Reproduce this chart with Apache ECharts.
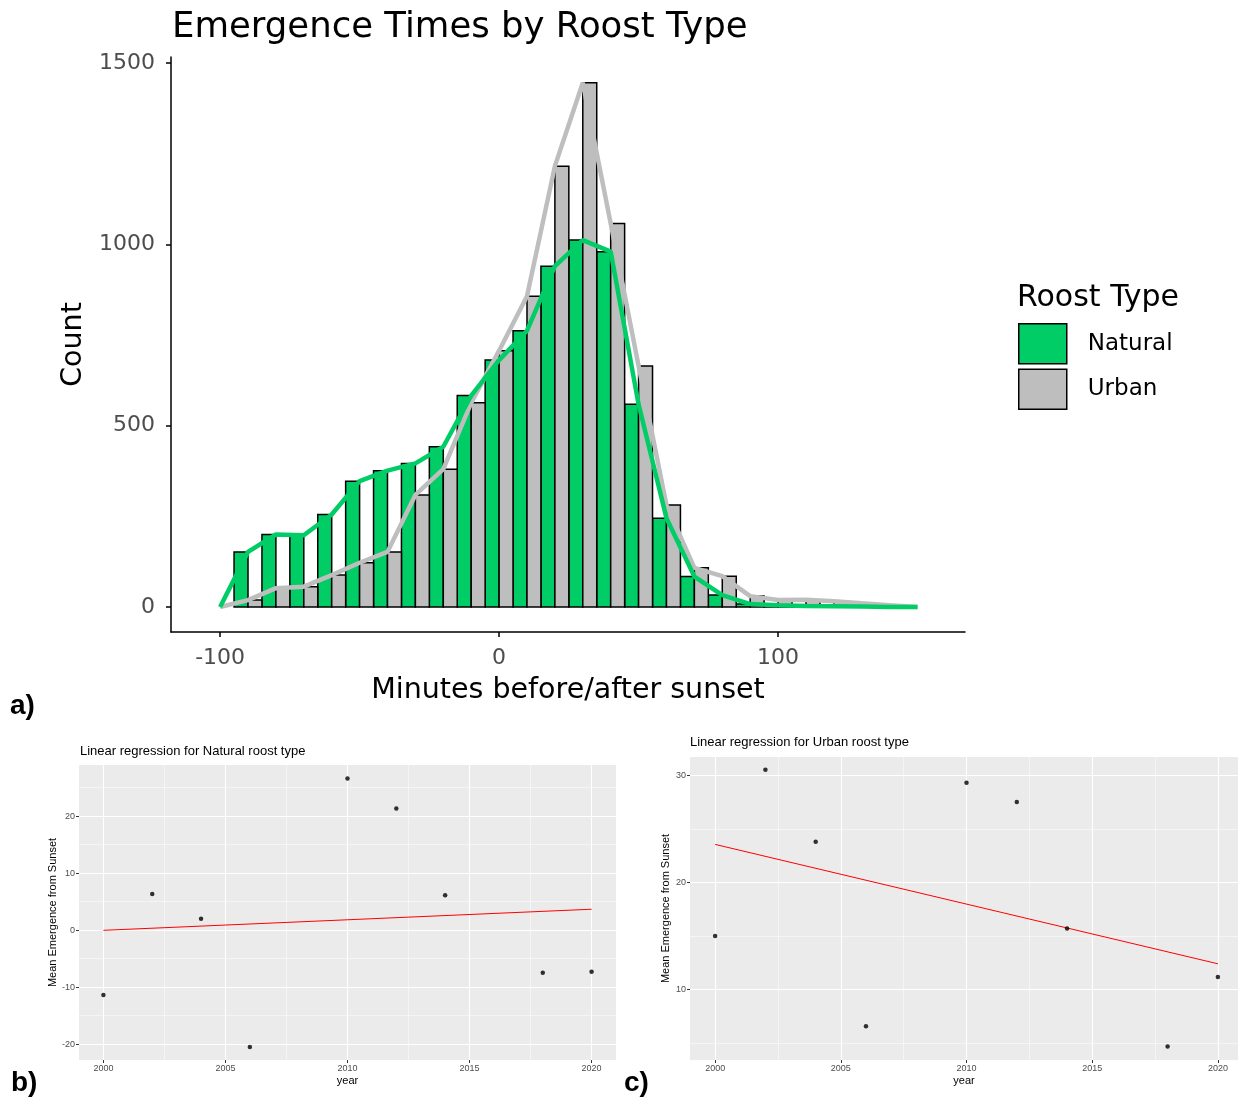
<!DOCTYPE html>
<html>
<head>
<meta charset="utf-8">
<title>Emergence Times by Roost Type</title>
<script src="https://cdn.jsdelivr.net/npm/echarts@6/dist/echarts.min.js"></script>
<style>
  html, body { margin: 0; padding: 0; background: #fff; }
  #chart { width: 1238px; height: 1097px; }
</style>
</head>
<body>
<div id="chart"></div>
<script>
// histogram: 10 minute bins, counts
const binWidth = 10;
const binCenters = [-90, -80, -70, -60, -50, -40, -30, -20, -10, 0, 10, 20, 30, 40, 50, 60, 70, 80, 90, 100, 110, 120, 130, 140];
const naturalCounts = [152, 200, 198, 255, 347, 376, 396, 442, 583, 681, 762, 940, 1012, 980, 559, 245, 84, 33, 8, 5, 3, 2, 1, 0];
const urbanCounts = [19, 52, 56, 88, 122, 152, 309, 380, 563, 707, 857, 1216, 1446, 1058, 665, 281, 108, 85, 30, 19, 20, 16, 10, 5];
const countTicks = [0, 500, 1000, 1500];
const minuteTicks = [-100, 0, 100];

// yearly mean emergence (b = Natural, c = Urban)
const years = [2000, 2002, 2004, 2006, 2010, 2012, 2014, 2018, 2020];
const naturalMeans = [-11.4, 6.3, 2.0, -20.5, 26.6, 21.3, 6.1, -7.5, -7.3];
const urbanMeans = [15.0, 30.5, 23.8, 6.6, 29.3, 27.5, 15.7, 4.7, 11.2];
// fitted lines, read at both ends
const fitYears = [2000, 2020];
const naturalFit = [-0.05, 3.65];
const urbanFit = [23.55, 12.42];
const yearTicks = [2000, 2005, 2010, 2015, 2020];
const yearMinor = [2002.5, 2007.5, 2012.5, 2017.5];
const naturalTicks = [-20, -10, 0, 10, 20];
const naturalMinor = [-15, -5, 5, 15, 25];
const urbanTicks = [10, 20, 30];
const urbanMinor = [5, 15, 25];

const GREEN = '#00CD66';
const GREY = '#BEBEBE';
const MAIN_FONT = 'DejaVu Sans';
const SMALL_FONT = 'Liberation Sans, Arial, sans-serif';
const plain = v => String(v);

// freqpoly closes at zero one bin beyond each end
function freqPoly(counts) {
  const pts = [[binCenters[0] - binWidth, 0]];
  binCenters.forEach((c, i) => pts.push([c, counts[i]]));
  pts.push([binCenters[binCenters.length - 1] + binWidth, 0]);
  return pts;
}

// dodged histogram bars: Natural on the left half of the bin, Urban on the right
function halfBar(leftHalf, color) {
  return function (params, api) {
    const c = api.value(0);
    const v = api.value(1);
    const x0 = leftHalf ? c - binWidth / 2 : c;
    const p0 = api.coord([x0, v]);
    const p1 = api.coord([x0 + binWidth / 2, 0]);
    return {
      type: 'rect',
      shape: { x: p0[0], y: p0[1], width: p1[0] - p0[0], height: p1[1] - p0[1] },
      style: { fill: color, stroke: '#000', lineWidth: 1.5 }
    };
  };
}

function smallXAxis(gridIndex, max) {
  return [{
    gridIndex: gridIndex, type: 'value', min: 1999, max: max,
    name: 'year', nameLocation: 'middle', nameGap: 15,
    nameTextStyle: { fontFamily: SMALL_FONT, fontSize: 11, color: '#000' },
    axisLine: { show: false, onZero: false },
    axisTick: { customValues: yearTicks, length: 3, lineStyle: { color: '#333' } },
    axisLabel: { customValues: yearTicks, formatter: plain, fontFamily: SMALL_FONT, fontSize: 9, color: '#4D4D4D', margin: 4 },
    splitLine: { show: true, lineStyle: { color: '#fff', width: 1.1 } }
  }, {
    gridIndex: gridIndex, type: 'value', min: 1999, max: max, position: 'top',
    axisLine: { show: false, onZero: false },
    axisTick: { show: false, customValues: yearMinor },
    axisLabel: { show: false },
    splitLine: { show: true, lineStyle: { color: '#fff', width: 0.5 } }
  }];
}

function smallYAxis(gridIndex, min, max, major, minor) {
  return [{
    gridIndex: gridIndex, type: 'value', min: min, max: max,
    name: 'Mean Emergence from Sunset', nameLocation: 'middle', nameGap: 19,
    nameTextStyle: { fontFamily: SMALL_FONT, fontSize: 11, color: '#000' },
    axisLine: { show: false, onZero: false },
    axisTick: { customValues: major, length: 3, lineStyle: { color: '#333' } },
    axisLabel: { customValues: major, formatter: plain, fontFamily: SMALL_FONT, fontSize: 9, color: '#4D4D4D', margin: 4 },
    splitLine: { show: true, lineStyle: { color: '#fff', width: 1.1 } }
  }, {
    gridIndex: gridIndex, type: 'value', min: min, max: max, position: 'right',
    axisLine: { show: false, onZero: false },
    axisTick: { show: false, customValues: minor },
    axisLabel: { show: false },
    splitLine: { show: true, lineStyle: { color: '#fff', width: 0.5 } }
  }];
}

const chart = echarts.init(document.getElementById('chart'), null, { renderer: 'canvas' });

const option = {
  backgroundColor: '#fff',
  animation: false,
  title: [
    { text: 'Emergence Times by Roost Type', left: 172, top: 10, padding: 0,
      textStyle: { fontFamily: MAIN_FONT, fontSize: 35.5, fontWeight: 'normal', color: '#000' } },
    { text: 'Roost Type', left: 1017, top: 283, padding: 0,
      textStyle: { fontFamily: MAIN_FONT, fontSize: 30, fontWeight: 'normal', color: '#000' } },
    { text: 'a)', left: 10, top: 692, padding: 0,
      textStyle: { fontFamily: SMALL_FONT, fontSize: 28, fontWeight: 'bold', color: '#000' } },
    { text: 'Linear regression for Natural roost type', left: 80, top: 745, padding: 0,
      textStyle: { fontFamily: SMALL_FONT, fontSize: 13, fontWeight: 'normal', color: '#000' } },
    { text: 'b)', left: 11, top: 1069, padding: 0,
      textStyle: { fontFamily: SMALL_FONT, fontSize: 28, fontWeight: 'bold', color: '#000' } },
    { text: 'Linear regression for Urban roost type', left: 690, top: 736, padding: 0,
      textStyle: { fontFamily: SMALL_FONT, fontSize: 13, fontWeight: 'normal', color: '#000' } },
    { text: 'c)', left: 624, top: 1069, padding: 0,
      textStyle: { fontFamily: SMALL_FONT, fontSize: 28, fontWeight: 'bold', color: '#000' } }
  ],
  legend: {
    data: ['Natural', 'Urban'],
    orient: 'vertical', left: 1018, top: 323, padding: 0,
    itemWidth: 48, itemHeight: 40, itemGap: 4,
    icon: 'rect', selectedMode: false,
    itemStyle: { borderColor: '#000', borderWidth: 1.5 },
    textStyle: { fontFamily: MAIN_FONT, fontSize: 23, color: '#000', padding: [7, 0, 0, 16] }
  },
  grid: [
    { left: 171, top: 57, width: 794, height: 575 },
    { left: 79, top: 765, width: 537, height: 295, show: true, backgroundColor: '#EBEBEB', borderWidth: 0 },
    { left: 690, top: 757, width: 548, height: 303, show: true, backgroundColor: '#EBEBEB', borderWidth: 0 }
  ],
  xAxis: [
    {
      gridIndex: 0, type: 'value', min: -117.6, max: 167,
      name: 'Minutes before/after sunset', nameLocation: 'middle', nameGap: 44,
      nameTextStyle: { fontFamily: MAIN_FONT, fontSize: 28.5, color: '#000' },
      axisLine: { onZero: false, lineStyle: { color: '#000', width: 1.5 } },
      axisTick: { customValues: minuteTicks, length: 5, lineStyle: { color: '#000', width: 1.5 } },
      axisLabel: { customValues: minuteTicks, formatter: plain, fontFamily: MAIN_FONT, fontSize: 22, color: '#4D4D4D', margin: 15 },
      splitLine: { show: false }
    },
    ...smallXAxis(1, 2021),
    ...smallXAxis(2, 2020.8)
  ],
  yAxis: [
    {
      gridIndex: 0, type: 'value', min: -69, max: 1517,
      name: 'Count', nameLocation: 'middle', nameGap: 83,
      nameTextStyle: { fontFamily: MAIN_FONT, fontSize: 28.5, color: '#000' },
      axisLine: { onZero: false, lineStyle: { color: '#000', width: 1.5 } },
      axisTick: { customValues: countTicks, length: 5, lineStyle: { color: '#000', width: 1.5 } },
      axisLabel: { customValues: countTicks, formatter: plain, fontFamily: MAIN_FONT, fontSize: 22, color: '#4D4D4D', margin: 16 },
      splitLine: { show: false }
    },
    ...smallYAxis(1, -22.8, 28.95, naturalTicks, naturalMinor),
    ...smallYAxis(2, 3.45, 31.7, urbanTicks, urbanMinor)
  ],
  series: [
    {
      name: 'Natural', type: 'custom', xAxisIndex: 0, yAxisIndex: 0,
      itemStyle: { color: GREEN },
      renderItem: halfBar(true, GREEN),
      data: binCenters.map((c, i) => [c, naturalCounts[i]]),
      z: 2
    },
    {
      name: 'Urban', type: 'custom', xAxisIndex: 0, yAxisIndex: 0,
      itemStyle: { color: GREY },
      renderItem: halfBar(false, GREY),
      data: binCenters.map((c, i) => [c, urbanCounts[i]]),
      z: 2
    },
    {
      name: 'Urban freq', type: 'line', xAxisIndex: 0, yAxisIndex: 0,
      data: freqPoly(urbanCounts), showSymbol: false,
      lineStyle: { color: GREY, width: 4.5 }, z: 3
    },
    {
      name: 'Natural freq', type: 'line', xAxisIndex: 0, yAxisIndex: 0,
      data: freqPoly(naturalCounts), showSymbol: false,
      lineStyle: { color: GREEN, width: 4.5 }, z: 4
    },
    {
      name: 'Natural fit', type: 'line', xAxisIndex: 1, yAxisIndex: 1,
      data: fitYears.map((y, i) => [y, naturalFit[i]]), showSymbol: false,
      lineStyle: { color: '#FF0000', width: 1 }, z: 3
    },
    {
      name: 'Natural means', type: 'scatter', xAxisIndex: 1, yAxisIndex: 1,
      data: years.map((y, i) => [y, naturalMeans[i]]),
      symbolSize: 4.5, itemStyle: { color: '#000' }, z: 4
    },
    {
      name: 'Urban fit', type: 'line', xAxisIndex: 3, yAxisIndex: 3,
      data: fitYears.map((y, i) => [y, urbanFit[i]]), showSymbol: false,
      lineStyle: { color: '#FF0000', width: 1 }, z: 3
    },
    {
      name: 'Urban means', type: 'scatter', xAxisIndex: 3, yAxisIndex: 3,
      data: years.map((y, i) => [y, urbanMeans[i]]),
      symbolSize: 4.5, itemStyle: { color: '#000' }, z: 4
    }
  ]
};

chart.setOption(option);
</script>
</body>
</html>
